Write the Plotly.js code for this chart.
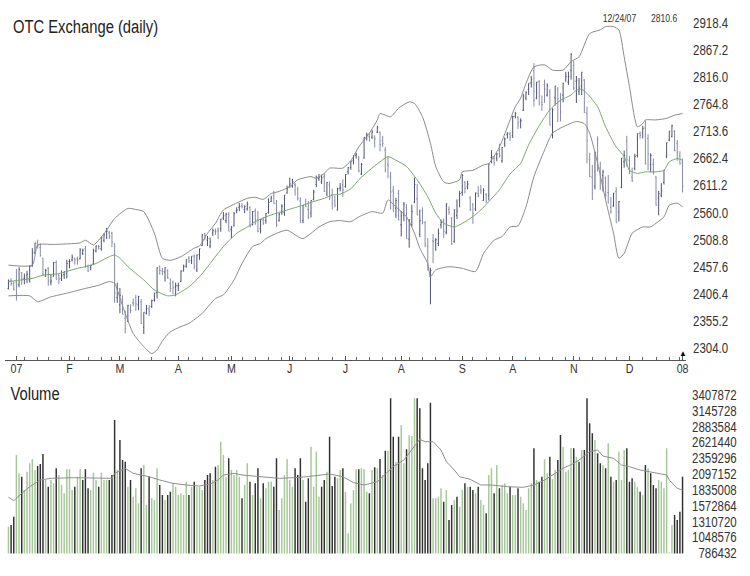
<!DOCTYPE html>
<html><head><meta charset="utf-8">
<script src="https://cdn.plot.ly/plotly-3.0.1.min.js"></script>
<style>html,body{margin:0;padding:0;background:#fff}#chart{width:750px;height:576px}</style>
</head><body><div id="chart"></div>
<script>
// ---------- calendar ----------
const holidays = ['2007-01-01','2007-01-02','2007-01-15','2007-02-19','2007-04-06','2007-05-28',
  '2007-07-04','2007-09-03','2007-11-22','2007-12-25','2008-01-01'];
const monthLabels = ['07','F','M','A','M','J','J','A','S','A','N','D','08'];
const priceTicks = [2304.0,2355.2,2406.4,2457.6,2508.8,2560.0,2611.2,2662.4,2713.6,2764.8,2816.0,2867.2,2918.4];
const volumeTicks = [786432,1048576,1310720,1572864,1835008,2097152,2359296,2621440,2883584,3145728,3407872];

// ---------- daily prices ----------
const open = [
 2417,2431,2426,2429,2424,2447,2436,2442,2433,2459, 2484,2502,2494,2474,2440,2455,2429,2440,2466,2441,
 2436,2443,2445,2468,2471,2474,2473,2473,2483,2492, 2458,2456,2463,2488,2496,2492,2508,2525,2522,2521,
 2502,2400,2386,2396,2360,2355,2378,2390,2400,2386, 2392,2344,2370,2378,2383,2395,2409,2459,2450,2448,
 2451,2426,2429,2420,2422,2430,2450,2459,2474,2469, 2478,2452,2481,2498,2520,2508,2497,2522,2525,2527,
 2530,2550,2545,2557,2528,2535,2563,2570,2573,2566, 2567,2570,2537,2563,2547,2530,2546,2545,2560,2581,
 2592,2578,2545,2560,2560,2597,2609,2610,2613,2605, 2582,2545,2576,2566,2559,2585,2613,2624,2618,2628,
 2595,2612,2594,2582,2565,2606,2613,2609,2637,2645, 2658,2668,2660,2633,2663,2702,2704,2702,2702,2712,
 2712,2696,2678,2651,2629,2601,2568,2596,2537,2556, 2570,2510,2537,2580,2586,2519,2563,2541,2497,2440,
 2507,2508,2502,2537,2545,2523,2566,2550,2506,2555, 2584,2598,2617,2609,2588,2575,2567,2596,2603,2583,
 2594,2592,2664,2662,2663,2677,2658,2690,2707,2708, 2705,2742,2740,2732,2753,2776,2792,2805,2828,2776,
 2808,2768,2802,2782,2788,2708,2777,2793,2771,2782, 2810,2806,2829,2838,2808,2789,2799,2810,2748,2660,
 2627,2610,2698,2644,2630,2625,2598,2570,2573,2600, 2561,2608,2656,2695,2658,2627,2643,2668,2709,2710,
 2720,2700,2651,2651,2627,2588,2593,2617,2667,2697, 2704,2713,2691,2667,2654];
const high = [
 2434,2436,2430,2454,2457,2448,2445,2450,2460,2493, 2503,2509,2502,2475,2454,2457,2443,2467,2470,2445,
 2451,2449,2471,2472,2481,2475,2477,2493,2492,2497, 2462,2462,2492,2498,2499,2514,2521,2531,2526,2524,
 2502,2428,2418,2404,2375,2386,2387,2398,2405,2403, 2397,2372,2386,2386,2396,2409,2457,2460,2456,2457,
 2453,2436,2432,2428,2428,2451,2462,2472,2478,2478, 2481,2481,2492,2520,2522,2516,2513,2530,2530,2532,
 2548,2561,2560,2561,2535,2561,2570,2578,2578,2574, 2581,2572,2563,2568,2563,2548,2552,2559,2587,2592,
 2601,2584,2560,2576,2593,2611,2626,2624,2616,2608, 2589,2574,2586,2582,2583,2603,2630,2633,2632,2634,
 2618,2619,2605,2592,2607,2616,2623,2633,2646,2658, 2668,2673,2667,2654,2702,2711,2710,2716,2706,2724,
 2713,2705,2684,2665,2637,2610,2588,2603,2563,2580, 2576,2547,2575,2626,2614,2566,2570,2544,2512,2456,
 2520,2512,2530,2547,2549,2577,2572,2552,2566,2585, 2601,2633,2620,2620,2591,2578,2598,2610,2612,2606,
 2597,2652,2678,2667,2673,2690,2684,2702,2712,2712, 2743,2750,2742,2738,2784,2789,2804,2818,2842,2807,
 2810,2781,2811,2804,2793,2757,2799,2797,2786,2805, 2826,2826,2861,2846,2818,2814,2825,2812,2760,2673,
 2650,2674,2704,2656,2641,2628,2631,2590,2597,2608, 2582,2663,2677,2705,2667,2645,2671,2709,2713,2724,
 2734,2708,2672,2662,2629,2601,2616,2641,2692,2714, 2726,2716,2697,2676,2662];
const low = [
 2415,2422,2413,2394,2419,2424,2425,2427,2428,2458, 2482,2492,2477,2441,2439,2422,2423,2439,2434,2425,
 2431,2435,2436,2455,2468,2462,2462,2472,2480,2456, 2448,2451,2462,2485,2490,2488,2504,2510,2510,2495,
 2390,2390,2370,2368,2332,2354,2370,2383,2375,2376, 2350,2331,2368,2365,2380,2392,2398,2443,2442,2430,
 2435,2410,2406,2402,2412,2429,2449,2456,2465,2463, 2453,2448,2471,2497,2508,2497,2493,2516,2518,2510,
 2524,2546,2540,2525,2512,2534,2559,2563,2568,2559, 2564,2532,2536,2537,2523,2521,2537,2539,2558,2580,
 2577,2533,2543,2556,2554,2596,2607,2607,2592,2583, 2541,2540,2571,2548,2551,2583,2608,2620,2614,2599,
 2591,2584,2566,2570,2564,2600,2590,2607,2632,2641, 2651,2662,2636,2631,2662,2696,2694,2699,2683,2710,
 2676,2684,2636,2625,2566,2562,2550,2546,2515,2544, 2511,2494,2533,2578,2555,2514,2538,2495,2451,2387,
 2465,2488,2497,2530,2512,2519,2556,2499,2503,2548, 2570,2592,2596,2604,2563,2539,2563,2589,2595,2582,
 2578,2583,2653,2649,2657,2664,2654,2684,2700,2695, 2701,2738,2718,2719,2752,2772,2782,2796,2760,2774,
 2762,2752,2767,2779,2725,2700,2762,2731,2732,2768, 2807,2801,2811,2791,2767,2782,2782,2748,2653,2627,
 2585,2604,2638,2603,2600,2585,2577,2558,2571,2541, 2543,2606,2645,2647,2633,2618,2640,2664,2700,2700,
 2651,2640,2636,2632,2573,2555,2589,2613,2663,2695, 2702,2676,2658,2651,2598];
const close = [
 2431,2426,2415,2423,2453,2434,2438,2444,2459,2485, 2503,2498,2479,2443,2451,2431,2431,2466,2434,2435,
 2441,2449,2464,2468,2476,2471,2471,2490,2489,2460, 2450,2460,2488,2497,2496,2513,2518,2525,2515,2505,
 2408,2416,2404,2368,2341,2385,2375,2388,2388,2402, 2351,2372,2379,2373,2394,2408,2456,2451,2449,2456,
 2437,2417,2418,2422,2422,2450,2459,2471,2469,2478, 2459,2480,2492,2518,2517,2511,2505,2526,2524,2525,
 2548,2554,2557,2525,2532,2558,2565,2572,2571,2572, 2576,2534,2562,2546,2525,2547,2539,2558,2579,2588,
 2577,2537,2557,2572,2593,2605,2614,2618,2611,2587, 2541,2574,2572,2550,2583,2599,2627,2627,2626,2600,
 2617,2589,2577,2574,2605,2608,2603,2632,2645,2657, 2667,2670,2639,2651,2702,2707,2697,2712,2699,2720,
 2688,2691,2640,2648,2599,2562,2583,2546,2554,2576, 2511,2547,2562,2613,2556,2545,2542,2499,2452,2451,
 2505,2509,2521,2542,2525,2577,2561,2501,2565,2563, 2596,2630,2606,2614,2566,2559,2597,2592,2601,2602,
 2582,2652,2666,2654,2671,2668,2683,2699,2710,2702, 2741,2747,2729,2734,2780,2787,2804,2812,2772,2806,
 2780,2764,2793,2799,2725,2754,2799,2775,2750,2804, 2817,2817,2859,2795,2810,2795,2825,2749,2696,2628,
 2585,2674,2644,2619,2637,2593,2597,2562,2597,2541, 2581,2663,2668,2661,2637,2620,2666,2709,2706,2719,
 2652,2671,2668,2636,2574,2596,2601,2641,2692,2714, 2724,2677,2674,2652,2610];

// ---------- daily volume (thousands) ----------
const volumeK = [
 1227,1255,1393,2414,2110,2055,1834,2138,2276,2348, 2166,2232,2265,2431,2000,1890,2000,1945,2193,2083,
 1917,1779,2177,2177,1834,1890,2055,2177,2000,2177, 1862,1834,2121,2000,1890,2121,2000,2000,2000,2083,
 2994,2166,2662,2331,2304,1890,2000,1724,1862,1614, 2193,2248,1586,2055,1696,1669,2193,1917,1752,1669,
 1752,1807,1945,1890,1752,1779,1752,1972,1752,1890, 1972,1890,1890,1834,2000,2083,2110,2000,2221,2248,
 2635,2414,2055,2359,2166,2083,2166,2055,1696,1917, 2276,1972,1752,1945,2193,1696,1945,1862,1972,1972,
 1890,2359,1503,1696,2083,2348,2000,1890,2193,2083, 2359,2000,1641,2028,2552,1890,2469,1724,1890,2000,
 2138,2718,1901,2055,2028,2166,2193,1807,1117,1614, 1834,2177,2177,2193,2177,1807,1779,2166,2210,2193,
 2348,2083,2486,2486,3352,2718,2304,2718,2911,2276, 2508,2745,2729,3352,3352,3187,2193,2000,2276,3281,
 1696,1696,1724,1862,1641,1834,1338,1586,1669,1724, 1558,1834,1945,1890,1890,1834,1779,1890,1669,1586,
 1448,2083,2193,1779,2248,1862,1917,1945,1779,1890, 1752,1752,1862,1724,1614,1503,1862,1945,2524,2000,
 1972,2055,2342,2110,2386,2011,2166,2331,2745,2552, 2138,2166,2524,2524,2386,2304,2497,2497,3352,2938,
 2773,2662,2442,2276,2248,2193,2607,2055,1972,2000, 2469,2000,2497,2524,1972,2028,1972,1890,1807,1752,
 2248,2193,2110,1917,1862,2000,1972,1862,2524,800, 1255,1420,1338,1476,2055];

// ---------- bands (trading-day number, value) ----------
const upperDay = [0,9,11,17,27,29,32,34,37,40,45,48,51,55,58,61,65,70,72,75,78,81,86,90,93,96,99,102,106,109,114,116,119,121,126,129,130,132,136,139,140,144,147,151,153,156,159,161,164,166,170,171,175,179,181,185,189,191,193,195,198,202,205,209,212,215,219,223,225,228,230,232,234,237,239,240,244,248,251,254];
const upperVal = [2461,2461,2499,2500,2503,2508,2499,2508,2527,2549,2568,2566,2562,2521,2474,2470,2477,2493,2497,2521,2540,2565,2578,2587,2589,2585,2596,2600,2609,2622,2628,2625,2634,2644,2644,2658,2666,2684,2710,2735,2747,2741,2757,2769,2766,2741,2691,2647,2618,2615,2622,2637,2640,2650,2653,2684,2735,2760,2776,2804,2835,2839,2829,2829,2845,2854,2898,2905,2911,2911,2905,2854,2798,2722,2728,2735,2735,2738,2744,2747];
const midDay = [0,9,13,19,26,29,33,38,40,42,45,51,55,60,63,68,72,76,81,86,90,93,97,101,105,109,111,115,119,122,125,129,132,136,140,143,146,150,154,158,161,164,168,170,174,178,181,185,189,193,196,200,204,208,212,214,216,218,222,225,229,232,234,237,240,244,247,249,252,254];
const midVal = [2430,2436,2442,2445,2455,2458,2464,2477,2480,2474,2458,2433,2414,2403,2405,2420,2439,2464,2496,2521,2533,2543,2552,2559,2565,2571,2574,2581,2587,2593,2595,2605,2622,2640,2656,2666,2659,2647,2622,2590,2559,2540,2533,2537,2549,2565,2581,2603,2633,2653,2688,2724,2754,2772,2782,2791,2793,2785,2760,2722,2684,2666,2640,2634,2637,2637,2640,2656,2662,2659];
const lowerDay = [0,8,11,16,22,29,34,38,40,41,44,47,51,54,56,58,61,65,68,73,78,81,85,88,92,95,97,101,105,109,111,114,117,121,125,129,132,137,141,143,146,150,153,155,158,159,161,166,171,176,179,183,186,189,192,195,198,202,205,209,214,217,219,222,225,228,230,232,235,239,242,244,247,249,252,254];
const lowerVal = [2403,2403,2392,2401,2408,2417,2423,2430,2427,2414,2370,2332,2307,2294,2301,2318,2335,2345,2351,2370,2398,2405,2433,2464,2496,2502,2511,2521,2527,2515,2511,2521,2533,2543,2545,2543,2552,2562,2559,2584,2571,2552,2521,2493,2464,2439,2452,2458,2455,2449,2483,2508,2515,2533,2535,2571,2628,2678,2710,2722,2732,2728,2710,2653,2584,2521,2474,2483,2521,2533,2533,2540,2552,2574,2578,2571];
const volAvgDay = [0,2,5,8,12,16,25,35,39,40,44,47,50,53,57,62,67,72,76,79,81,85,88,95,102,110,115,121,126,130,134,139,141,145,149,151,155,157,160,163,165,168,170,174,178,182,188,194,198,202,205,209,213,215,219,222,224,228,231,234,238,244,248,249,252,254];
const volAvgK = [1713,1658,1779,1890,2000,2028,2039,2028,2028,2110,2193,2110,2083,2055,2000,1945,1917,1901,1934,2000,2083,2110,2083,2055,2028,2044,2072,2099,2055,1956,1917,1972,2055,2221,2331,2442,2674,2635,2635,2497,2304,2166,2055,2011,1918,1917,1890,1879,1917,2000,2083,2193,2276,2331,2469,2497,2397,2359,2248,2221,2166,2110,2083,2000,1862,1834];

// ---------- build trading calendar ----------
const dates = [];
for (let t = Date.UTC(2006,11,27); t <= Date.UTC(2008,0,2); t += 86400000) {
  const d = new Date(t), dow = d.getUTCDay(), s = d.toISOString().slice(0,10);
  if (dow === 0 || dow === 6 || holidays.includes(s)) continue;
  dates.push(s);
}
const dayNum = dates.map((_, i) => i);
const monthTickIdx = [], weekTickIdx = [];
dates.forEach((s, i) => {
  if (i === 0) return;
  const p = dates[i-1];
  if (s.slice(5,7) !== p.slice(5,7)) monthTickIdx.push(i);
  if (new Date(s).getUTCDay() < new Date(p).getUTCDay()) weekTickIdx.push(i);
});
const volume = volumeK.map(v => v * 1000);
const volAvg = volAvgK.map(v => v * 1000);
const volColors = close.map((c, i) => (i === 0 ? c >= open[0] : c >= close[i-1]) ? '#a6c797' : '#303030');

const FONT = '"Liberation Sans", Arial, sans-serif';
const bandLine = {color:'#8a8a8a', width:1, shape:'spline', smoothing:0.6};

const traces = [
  {type:'scatter', mode:'lines', x:upperDay, y:upperVal, line:bandLine, hoverinfo:'skip', xaxis:'x', yaxis:'y'},
  {type:'scatter', mode:'lines', x:lowerDay, y:lowerVal, line:bandLine, hoverinfo:'skip', xaxis:'x', yaxis:'y'},
  {type:'scatter', mode:'lines', x:midDay, y:midVal, line:{color:'#79a76b', width:1, shape:'spline', smoothing:0.6}, hoverinfo:'skip', xaxis:'x', yaxis:'y'},
  {type:'ohlc', x:dayNum, open:open, high:high, low:low, close:close, tickwidth:0.35,
   increasing:{line:{color:'#4f5470', width:1}}, decreasing:{line:{color:'#868ba4', width:1}},
   hoverinfo:'skip', xaxis:'x', yaxis:'y'},
  {type:'bar', x:dayNum, y:volume, width:0.55, marker:{color:volColors, line:{width:0}}, hoverinfo:'skip', xaxis:'x', yaxis:'y2'},
  {type:'scatter', mode:'lines', x:volAvgDay, y:volAvg, line:{color:'#8f8f8f', width:1}, hoverinfo:'skip', xaxis:'x', yaxis:'y2'}
];

const PW = 681; // plot width in px (750 - 5 - 64)
const px = v => (v - 5) / PW;
const py = v => 1 - v / 576;

const layout = {
  width:750, height:576, margin:{l:5, r:64, t:0, b:0},
  paper_bgcolor:'#ffffff', plot_bgcolor:'#ffffff', showlegend:false,
  font:{family:FONT, color:'#333'},
  xaxis:{range:[-1.3,255.3], anchor:'y', showgrid:false, zeroline:false, showline:true,
    linecolor:'#555', linewidth:1, ticks:'inside', ticklen:4, tickcolor:'#555',
    tickmode:'array', tickvals:monthTickIdx, ticktext:monthLabels, ticklabelstandoff:-3,
    tickfont:{family:FONT, size:13, color:'#333'},
    minor:{tickmode:'array', tickvals:weekTickIdx, ticks:'inside', ticklen:3, tickcolor:'#666', showgrid:false},
    rangeslider:{visible:false}, fixedrange:true},
  yaxis:{domain:[py(359.5), py(10)], range:[2282.9, 2942.4], side:'right', anchor:'x',
    showgrid:false, zeroline:false, showline:false, ticks:'', ticklabelstandoff:6,
    tickmode:'array', tickvals:priceTicks, tickformat:'.1f',
    tickfont:{family:FONT, size:14, color:'#333'}, fixedrange:true},
  yaxis2:{domain:[py(553.5), py(380)], range:[783100, 3656280], side:'right', anchor:'x',
    showgrid:false, zeroline:false, showline:false, ticks:'', ticklabelstandoff:5,
    tickmode:'array', tickvals:volumeTicks,
    ticktext:volumeTicks.map(v => v < 1e6 ? '\u2007' + v : String(v)),
    tickfont:{family:FONT, size:14, color:'#333'}, fixedrange:true},
  annotations:[
    {xref:'paper', yref:'paper', x:px(85), y:py(27), xanchor:'center', yanchor:'middle', showarrow:false,
     text:'OTC Exchange (daily)', font:{family:FONT, size:18, color:'#222'}},
    {xref:'paper', yref:'paper', x:px(34.5), y:py(394), xanchor:'center', yanchor:'middle', showarrow:false,
     text:'Volume', font:{family:FONT, size:18, color:'#222'}},
    {xref:'paper', yref:'paper', x:px(619), y:py(18), xanchor:'center', yanchor:'middle', showarrow:false,
     text:'12/24/07', font:{family:FONT, size:10.5, color:'#333'}},
    {xref:'paper', yref:'paper', x:px(664), y:py(18), xanchor:'center', yanchor:'middle', showarrow:false,
     text:'2810.6', font:{family:FONT, size:10.5, color:'#333'}},
    {xref:'x', yref:'paper', x:dayNum[dayNum.length-1], y:py(359.5), xanchor:'center', yanchor:'bottom', showarrow:false,
     text:'\u25B2', font:{size:8, color:'#000'}}
  ]
};

// narrow the lettering like the original's condensed face
function condense(gd) {
  const sel = gd.querySelectorAll('.xtick text, .ytick text, .y2tick text, .annotation-text');
  sel.forEach(t => {
    if (t.textContent === '\u25B2') return;
    const w = t.getComputedTextLength();
    if (w > 0) {
      t.setAttribute('textLength', (w * 0.82).toFixed(2));
      t.setAttribute('lengthAdjust', 'spacingAndGlyphs');
    }
  });
}

Plotly.newPlot('chart', traces, layout, {staticPlot:true, displayModeBar:false}).then(condense);
</script>
</body></html>
